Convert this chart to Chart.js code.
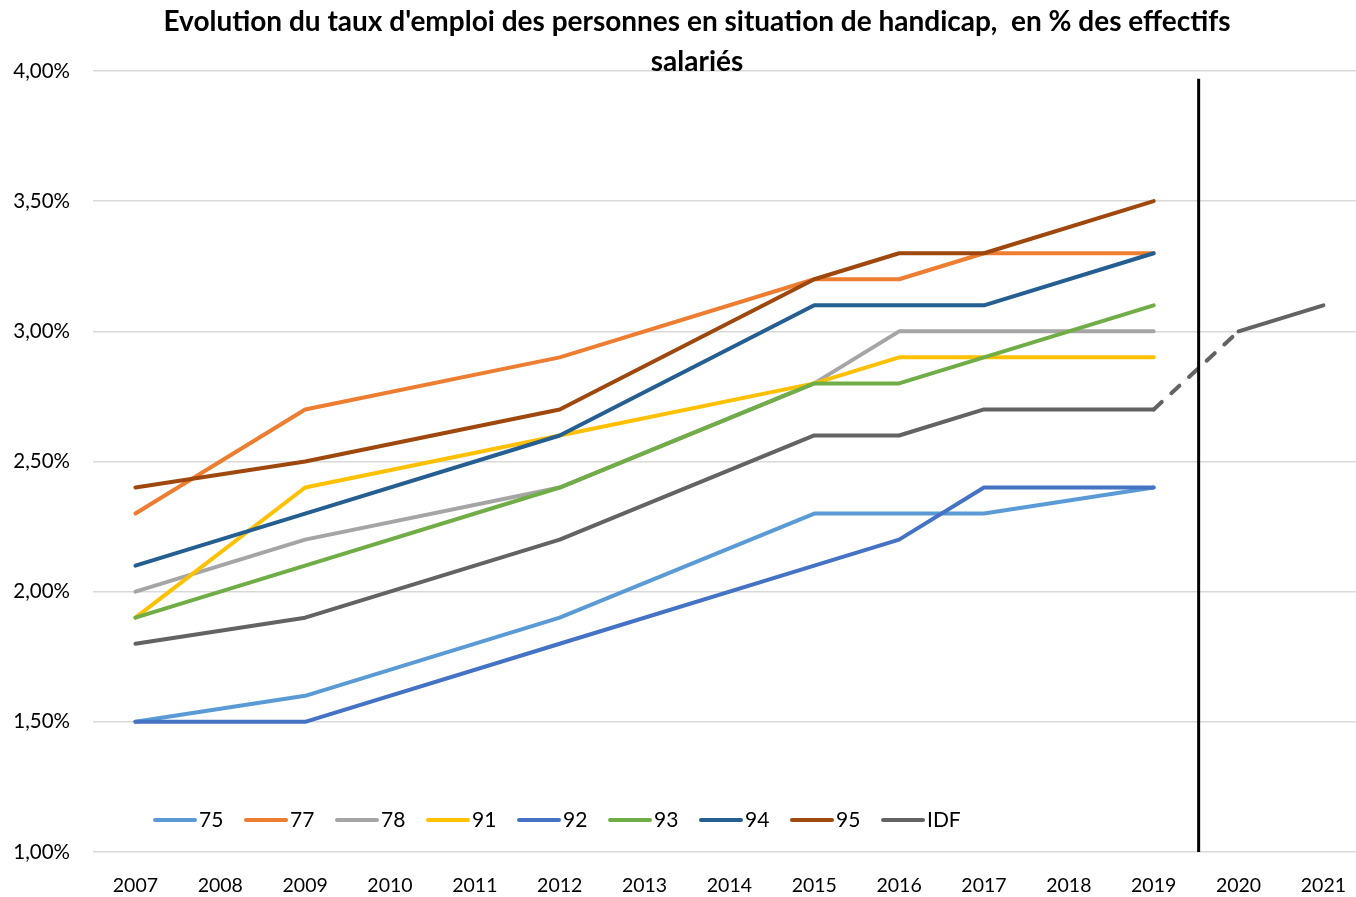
<!DOCTYPE html>
<html>
<head>
<meta charset="utf-8">
<title>Taux d'emploi des personnes en situation de handicap</title>
<script src="https://cdn.jsdelivr.net/npm/chart.js@4"></script>
<style>
  html, body { margin: 0; padding: 0; background: #fff; overflow: hidden; }
  #wrap { width: 1368px; height: 897px; }
</style>
</head>
<body>
<div id="wrap"><canvas id="chart" width="1368" height="897"></canvas></div>
<script>
const years = ['2007', '2008', '2009', '2010', '2011', '2012', '2013', '2014', '2015', '2016', '2017', '2018', '2019', '2020', '2021'];

const dep75 = [1.5, null, 1.6, null, null, 1.9, null, null, 2.3, 2.3, 2.3, null, 2.4, null, null];
const dep77 = [2.3, null, 2.7, null, null, 2.9, null, null, 3.2, 3.2, 3.3, null, 3.3, null, null];
const dep78 = [2.0, null, 2.2, null, null, 2.4, null, null, 2.8, 3.0, 3.0, null, 3.0, null, null];
const dep91 = [1.9, null, 2.4, null, null, 2.6, null, null, 2.8, 2.9, 2.9, null, 2.9, null, null];
const dep92 = [1.5, null, 1.5, null, null, 1.8, null, null, 2.1, 2.2, 2.4, null, 2.4, null, null];
const dep93 = [1.9, null, 2.1, null, null, 2.4, null, null, 2.8, 2.8, 2.9, null, 3.1, null, null];
const dep94 = [2.1, null, 2.3, null, null, 2.6, null, null, 3.1, 3.1, 3.1, null, 3.3, null, null];
const dep95 = [2.4, null, 2.5, null, null, 2.7, null, null, 3.2, 3.3, 3.3, null, 3.5, null, null];
const idf = [1.8, null, 1.9, null, null, 2.2, null, null, 2.6, 2.6, 2.7, null, 2.7, 3.0, 3.1];

const seriesNames = ['75', '77', '78', '91', '92', '93', '94', '95', 'IDF'];
const seriesData = [dep75, dep77, dep78, dep91, dep92, dep93, dep94, dep95, idf];
const seriesColors = ['#5B9BD5', '#ED7D31', '#A5A5A5', '#FFC000', '#4472C4', '#70AD47', '#255E91', '#9E480E', '#636363'];

const titleLines = ["Evolution du taux d'emploi des personnes en situation de handicap,  en % des effectifs", 'salariés'];

// last real year, after that the IDF line is a projection
const dashedFrom = 12;
const separatorAt = 12.53;
const separatorTop = 3.97;

const font = 'Lato, "Noto Sans", sans-serif';

const datasets = seriesNames.map((name, i) => ({
  label: name,
  data: seriesData[i],
  borderColor: seriesColors[i],
  backgroundColor: seriesColors[i],
  borderWidth: 4,
  borderCapStyle: 'round',
  borderJoinStyle: 'round',
  pointRadius: 0,
  pointHoverRadius: 0,
  tension: 0,
  spanGaps: true,
  fill: false,
  order: seriesNames.length - i,
  segment: name === 'IDF' ? {
    borderDash: ctx => ctx.p0DataIndex === dashedFrom ? [11, 13] : undefined
  } : undefined
}));

const titlePlugin = {
  id: 'excelTitle',
  afterDraw(chart) {
    const c = chart.ctx;
    c.save();
    c.fillStyle = '#000';
    c.font = 'bold 28px ' + font;
    c.textAlign = 'center';
    c.textBaseline = 'middle';
    titleLines.forEach((line, i) => c.fillText(line, 697, 22 + i * 40));
    c.restore();
  }
};

const separatorPlugin = {
  id: 'separator',
  afterDatasetsDraw(chart) {
    const x = chart.scales.x.getPixelForValue(separatorAt);
    const c = chart.ctx;
    c.save();
    c.strokeStyle = '#000';
    c.lineWidth = 3;
    c.beginPath();
    c.moveTo(x, chart.scales.y.getPixelForValue(separatorTop));
    c.lineTo(x, chart.chartArea.bottom);
    c.stroke();
    c.restore();
  }
};

const legendPlugin = {
  id: 'innerLegend',
  afterDatasetsDraw(chart) {
    const c = chart.ctx;
    const area = chart.chartArea;
    let x = area.left + 60;
    const y = area.bottom - 32;
    c.save();
    c.font = '21px ' + font;
    c.textBaseline = 'middle';
    c.lineCap = 'round';
    c.lineWidth = 4;
    chart.data.datasets.forEach(ds => {
      c.strokeStyle = ds.borderColor;
      c.beginPath();
      c.moveTo(x + 2, y);
      c.lineTo(x + 42, y);
      c.stroke();
      c.fillStyle = '#000';
      c.fillText(ds.label, x + 46, y);
      x += 91;
    });
    c.restore();
  }
};

new Chart(document.getElementById('chart'), {
  type: 'line',
  data: { labels: years, datasets },
  options: {
    responsive: false,
    animation: false,
    layout: { padding: { top: 71, left: 0, right: 0, bottom: 0 } },
    plugins: {
      legend: { display: false },
      title: { display: false },
      tooltip: { enabled: false }
    },
    scales: {
      x: {
        offset: true,
        grid: { display: false, drawTicks: false },
        border: { display: false },
        ticks: { color: '#000', font: { family: font, size: 19.5 }, padding: 22, maxRotation: 0, autoSkip: false },
        afterFit(scale) { scale.height = 45; }
      },
      y: {
        min: 1,
        max: 4,
        grid: { color: '#d9d9d9', lineWidth: 1.5, drawTicks: false },
        border: { display: false },
        ticks: {
          stepSize: 0.5,
          color: '#000',
          font: { family: font, size: 20.5 },
          padding: 23,
          callback: v => v.toFixed(2).replace('.', ',') + '%'
        },
        afterFit(scale) { scale.width = 93; }
      }
    }
  },
  plugins: [titlePlugin, separatorPlugin, legendPlugin]
});
</script>
</body>
</html>
